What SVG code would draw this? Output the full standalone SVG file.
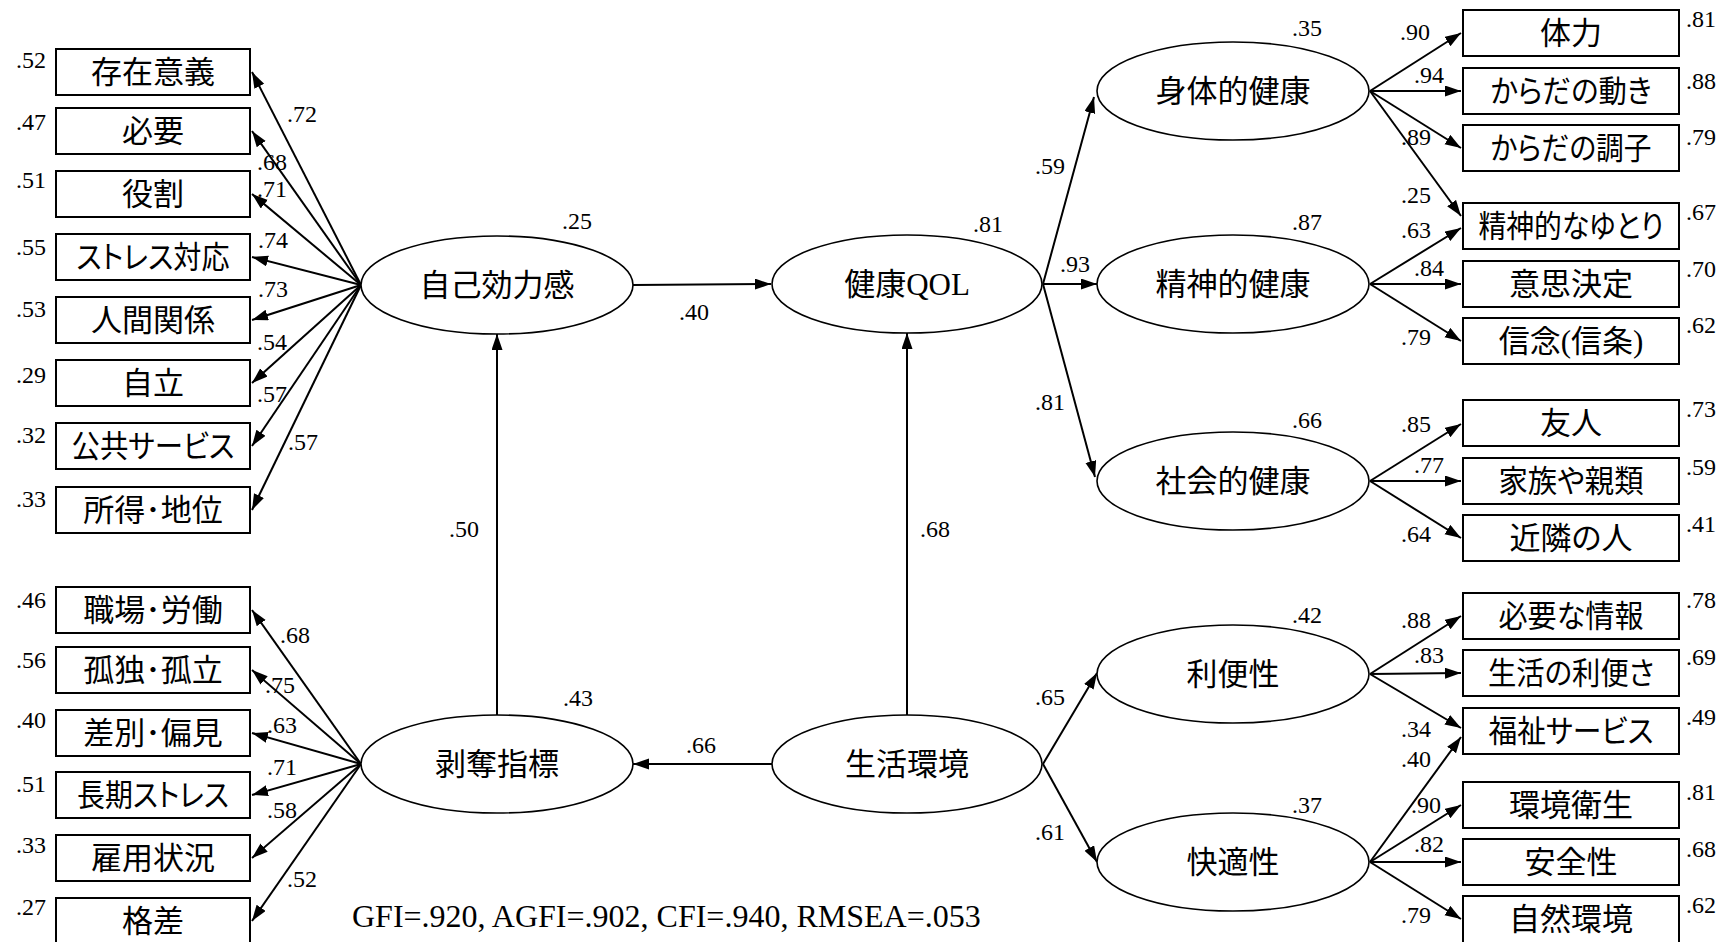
<svg xmlns="http://www.w3.org/2000/svg" width="1729" height="942" viewBox="0 0 1729 942">
<style>
.box{fill:#fff;stroke:#000;stroke-width:2}
.ell{fill:#fff;stroke:#000;stroke-width:1.6}
.jp{font-family:"Noto Sans CJK JP","Noto Sans CJK SC",sans-serif;font-size:31px;text-anchor:middle;fill:#000;font-feature-settings:"palt" 1}
.sf{font-family:"Liberation Serif","Times New Roman",serif}
.num{font-family:"Liberation Serif","Times New Roman",serif;font-size:24px;fill:#000}
.r{text-anchor:end}
#connectors line{stroke:#000;stroke-width:2;marker-end:url(#ah)}
</style>
<defs>
<marker id="ah" markerUnits="userSpaceOnUse" markerWidth="18" markerHeight="12" refX="16" refY="5.5" orient="auto">
<path d="M0,0 L16,5.5 L0,11 z" fill="#000"/>
</marker>
</defs>
<rect width="1729" height="942" fill="#fff"/>

<g id="connectors">
<line x1="361" y1="285" x2="252" y2="72"/>
<line x1="361" y1="285" x2="252" y2="131"/>
<line x1="361" y1="285" x2="252" y2="194"/>
<line x1="361" y1="285" x2="252" y2="257"/>
<line x1="361" y1="285" x2="252" y2="320"/>
<line x1="361" y1="285" x2="252" y2="383"/>
<line x1="361" y1="285" x2="252" y2="446"/>
<line x1="361" y1="285" x2="252" y2="510"/>
<line x1="361" y1="764" x2="252" y2="610"/>
<line x1="361" y1="764" x2="252" y2="670"/>
<line x1="361" y1="764" x2="252" y2="733"/>
<line x1="361" y1="764" x2="252" y2="795"/>
<line x1="361" y1="764" x2="252" y2="858"/>
<line x1="361" y1="764" x2="252" y2="921"/>
<line x1="633" y1="285" x2="771" y2="284"/>
<line x1="497" y1="715" x2="497" y2="334"/>
<line x1="907" y1="715" x2="907" y2="333"/>
<line x1="772" y1="764" x2="633" y2="764"/>
<line x1="1043" y1="284" x2="1094" y2="97"/>
<line x1="1043" y1="284" x2="1097" y2="284"/>
<line x1="1043" y1="284" x2="1095" y2="477"/>
<line x1="1043" y1="764" x2="1097" y2="673"/>
<line x1="1043" y1="764" x2="1097" y2="862"/>
<line x1="1370" y1="91" x2="1461" y2="33"/>
<line x1="1370" y1="91" x2="1461" y2="91"/>
<line x1="1370" y1="91" x2="1461" y2="148"/>
<line x1="1370" y1="91" x2="1461" y2="216"/>
<line x1="1370" y1="284" x2="1461" y2="228"/>
<line x1="1370" y1="284" x2="1461" y2="284"/>
<line x1="1370" y1="284" x2="1461" y2="341"/>
<line x1="1370" y1="481" x2="1461" y2="424"/>
<line x1="1370" y1="481" x2="1461" y2="481"/>
<line x1="1370" y1="481" x2="1461" y2="538"/>
<line x1="1370" y1="674" x2="1461" y2="616"/>
<line x1="1370" y1="674" x2="1461" y2="673"/>
<line x1="1370" y1="674" x2="1461" y2="728"/>
<line x1="1370" y1="862" x2="1461" y2="737"/>
<line x1="1370" y1="862" x2="1461" y2="805"/>
<line x1="1370" y1="862" x2="1461" y2="862"/>
<line x1="1370" y1="862" x2="1461" y2="919"/>
</g>

<g id="latent-jikokouryokukan"><ellipse class="ell" cx="497" cy="285" rx="136" ry="49"/><text class="jp" x="497" y="296">自己効力感</text></g>
<g id="latent-kenkoQOL"><ellipse class="ell" cx="907" cy="284" rx="135" ry="49"/><text class="jp" x="907" y="295">健康<tspan class="sf">QOL</tspan></text></g>
<g id="latent-hakudatsu"><ellipse class="ell" cx="497" cy="764" rx="136" ry="49"/><text class="jp" x="497" y="775">剥奪指標</text></g>
<g id="latent-seikatsukankyo"><ellipse class="ell" cx="907" cy="764" rx="135" ry="49"/><text class="jp" x="907" y="775">生活環境</text></g>
<g id="latent-shintai"><ellipse class="ell" cx="1233" cy="91" rx="136" ry="49"/><text class="jp" x="1233" y="102">身体的健康</text></g>
<g id="latent-seishin"><ellipse class="ell" cx="1233" cy="284" rx="136" ry="49"/><text class="jp" x="1233" y="295">精神的健康</text></g>
<g id="latent-shakai"><ellipse class="ell" cx="1233" cy="481" rx="136" ry="49"/><text class="jp" x="1233" y="492">社会的健康</text></g>
<g id="latent-ribensei"><ellipse class="ell" cx="1233" cy="674" rx="136" ry="49"/><text class="jp" x="1233" y="685">利便性</text></g>
<g id="latent-kaitekisei"><ellipse class="ell" cx="1233" cy="862" rx="136" ry="49"/><text class="jp" x="1233" y="873">快適性</text></g>

<g id="obs-sonzai"><rect class="box" x="56" y="49" width="194" height="46"/><text class="jp" x="153" y="83">存在意義</text></g>
<g id="obs-hitsuyo"><rect class="box" x="56" y="108" width="194" height="46"/><text class="jp" x="153" y="142">必要</text></g>
<g id="obs-yakuwari"><rect class="box" x="56" y="171" width="194" height="46"/><text class="jp" x="153" y="205">役割</text></g>
<g id="obs-stress"><rect class="box" x="56" y="234" width="194" height="46"/><text class="jp" x="153" y="268" textLength="153" lengthAdjust="spacingAndGlyphs">ストレス対応</text></g>
<g id="obs-ningen"><rect class="box" x="56" y="297" width="194" height="46"/><text class="jp" x="153" y="331">人間関係</text></g>
<g id="obs-jiritsu"><rect class="box" x="56" y="360" width="194" height="46"/><text class="jp" x="153" y="394">自立</text></g>
<g id="obs-kokyo"><rect class="box" x="56" y="423" width="194" height="46"/><text class="jp" x="153" y="457" textLength="163" lengthAdjust="spacingAndGlyphs">公共サービス</text></g>
<g id="obs-shotoku"><rect class="box" x="56" y="487" width="194" height="46"/><text class="jp" x="153" y="521">所得･地位</text></g>

<g id="obs-shokuba"><rect class="box" x="56" y="587" width="194" height="46"/><text class="jp" x="153" y="621">職場･労働</text></g>
<g id="obs-kodoku"><rect class="box" x="56" y="647" width="194" height="46"/><text class="jp" x="153" y="681">孤独･孤立</text></g>
<g id="obs-sabetsu"><rect class="box" x="56" y="710" width="194" height="46"/><text class="jp" x="153" y="744">差別･偏見</text></g>
<g id="obs-choki"><rect class="box" x="56" y="772" width="194" height="46"/><text class="jp" x="153" y="806" textLength="152" lengthAdjust="spacingAndGlyphs">長期ストレス</text></g>
<g id="obs-koyo"><rect class="box" x="56" y="835" width="194" height="46"/><text class="jp" x="153" y="869">雇用状況</text></g>
<g id="obs-kakusa"><rect class="box" x="56" y="898" width="194" height="50"/><text class="jp" x="153" y="932">格差</text></g>

<g id="obs-tairyoku"><rect class="box" x="1463" y="10" width="216" height="46"/><text class="jp" x="1571" y="44">体力</text></g>
<g id="obs-ugoki"><rect class="box" x="1463" y="68" width="216" height="46"/><text class="jp" x="1571" y="102" textLength="161" lengthAdjust="spacingAndGlyphs">からだの動き</text></g>
<g id="obs-choshi"><rect class="box" x="1463" y="125" width="216" height="46"/><text class="jp" x="1571" y="159" textLength="161" lengthAdjust="spacingAndGlyphs">からだの調子</text></g>
<g id="obs-yutori"><rect class="box" x="1463" y="203" width="216" height="46"/><text class="jp" x="1571" y="237" textLength="185" lengthAdjust="spacingAndGlyphs">精神的なゆとり</text></g>
<g id="obs-ishi"><rect class="box" x="1463" y="261" width="216" height="46"/><text class="jp" x="1571" y="295">意思決定</text></g>
<g id="obs-shinnen"><rect class="box" x="1463" y="318" width="216" height="46"/><text class="jp" x="1571" y="352">信念<tspan class="sf">(</tspan>信条<tspan class="sf">)</tspan></text></g>
<g id="obs-yujin"><rect class="box" x="1463" y="400" width="216" height="46"/><text class="jp" x="1571" y="434">友人</text></g>
<g id="obs-kazoku"><rect class="box" x="1463" y="458" width="216" height="46"/><text class="jp" x="1571" y="492" textLength="145" lengthAdjust="spacingAndGlyphs">家族や親類</text></g>
<g id="obs-kinrin"><rect class="box" x="1463" y="515" width="216" height="46"/><text class="jp" x="1571" y="549">近隣の人</text></g>
<g id="obs-joho"><rect class="box" x="1463" y="593" width="216" height="46"/><text class="jp" x="1571" y="627" textLength="145" lengthAdjust="spacingAndGlyphs">必要な情報</text></g>
<g id="obs-ribensa"><rect class="box" x="1463" y="650" width="216" height="46"/><text class="jp" x="1571" y="684" textLength="166" lengthAdjust="spacingAndGlyphs">生活の利便さ</text></g>
<g id="obs-fukushi"><rect class="box" x="1463" y="708" width="216" height="46"/><text class="jp" x="1571" y="742" textLength="165" lengthAdjust="spacingAndGlyphs">福祉サービス</text></g>
<g id="obs-eisei"><rect class="box" x="1463" y="782" width="216" height="46"/><text class="jp" x="1571" y="816">環境衛生</text></g>
<g id="obs-anzen"><rect class="box" x="1463" y="839" width="216" height="46"/><text class="jp" x="1571" y="873">安全性</text></g>
<g id="obs-shizen"><rect class="box" x="1463" y="896" width="216" height="50"/><text class="jp" x="1571" y="930">自然環境</text></g>

<g id="labels">
<text class="num" x="287" y="122">.72</text>
<text class="num" x="257" y="170">.68</text>
<text class="num" x="257" y="197">.71</text>
<text class="num" x="258" y="248">.74</text>
<text class="num" x="258" y="297">.73</text>
<text class="num" x="257" y="350">.54</text>
<text class="num" x="257" y="402">.57</text>
<text class="num" x="288" y="450">.57</text>
<text class="num r" x="46" y="68">.52</text>
<text class="num r" x="46" y="130">.47</text>
<text class="num r" x="46" y="188">.51</text>
<text class="num r" x="46" y="255">.55</text>
<text class="num r" x="46" y="317">.53</text>
<text class="num r" x="46" y="383">.29</text>
<text class="num r" x="46" y="443">.32</text>
<text class="num r" x="46" y="507">.33</text>

<text class="num" x="280" y="643">.68</text>
<text class="num" x="265" y="693">.75</text>
<text class="num" x="267" y="733">.63</text>
<text class="num" x="267" y="775">.71</text>
<text class="num" x="267" y="818">.58</text>
<text class="num" x="287" y="887">.52</text>
<text class="num r" x="46" y="608">.46</text>
<text class="num r" x="46" y="668">.56</text>
<text class="num r" x="46" y="728">.40</text>
<text class="num r" x="46" y="792">.51</text>
<text class="num r" x="46" y="853">.33</text>
<text class="num r" x="46" y="915">.27</text>

<text class="num" x="562" y="229">.25</text>
<text class="num" x="973" y="232">.81</text>
<text class="num" x="679" y="320">.40</text>
<text class="num" x="449" y="537">.50</text>
<text class="num" x="920" y="537">.68</text>
<text class="num" x="563" y="706">.43</text>
<text class="num" x="686" y="753">.66</text>

<text class="num" x="1035" y="174">.59</text>
<text class="num" x="1060" y="272">.93</text>
<text class="num" x="1035" y="410">.81</text>
<text class="num" x="1035" y="705">.65</text>
<text class="num" x="1035" y="840">.61</text>

<text class="num" x="1292" y="36">.35</text>
<text class="num" x="1292" y="230">.87</text>
<text class="num" x="1292" y="428">.66</text>
<text class="num" x="1292" y="623">.42</text>
<text class="num" x="1292" y="813">.37</text>

<text class="num" x="1400" y="40">.90</text>
<text class="num" x="1414" y="83">.94</text>
<text class="num" x="1401" y="145">.89</text>
<text class="num" x="1401" y="203">.25</text>
<text class="num" x="1401" y="238">.63</text>
<text class="num" x="1414" y="276">.84</text>
<text class="num" x="1401" y="345">.79</text>
<text class="num" x="1401" y="432">.85</text>
<text class="num" x="1414" y="473">.77</text>
<text class="num" x="1401" y="542">.64</text>
<text class="num" x="1401" y="628">.88</text>
<text class="num" x="1414" y="663">.83</text>
<text class="num" x="1401" y="737">.34</text>
<text class="num" x="1401" y="767">.40</text>
<text class="num" x="1411" y="813">.90</text>
<text class="num" x="1414" y="852">.82</text>
<text class="num" x="1401" y="923">.79</text>

<text class="num" x="1686" y="27">.81</text>
<text class="num" x="1686" y="89">.88</text>
<text class="num" x="1686" y="145">.79</text>
<text class="num" x="1686" y="220">.67</text>
<text class="num" x="1686" y="277">.70</text>
<text class="num" x="1686" y="333">.62</text>
<text class="num" x="1686" y="417">.73</text>
<text class="num" x="1686" y="475">.59</text>
<text class="num" x="1686" y="532">.41</text>
<text class="num" x="1686" y="608">.78</text>
<text class="num" x="1686" y="665">.69</text>
<text class="num" x="1686" y="725">.49</text>
<text class="num" x="1686" y="800">.81</text>
<text class="num" x="1686" y="857">.68</text>
<text class="num" x="1686" y="913">.62</text>

<text class="num" x="352" y="927" style="font-size:32px">GFI=.920, AGFI=.902, CFI=.940, RMSEA=.053</text>
</g>
</svg>
